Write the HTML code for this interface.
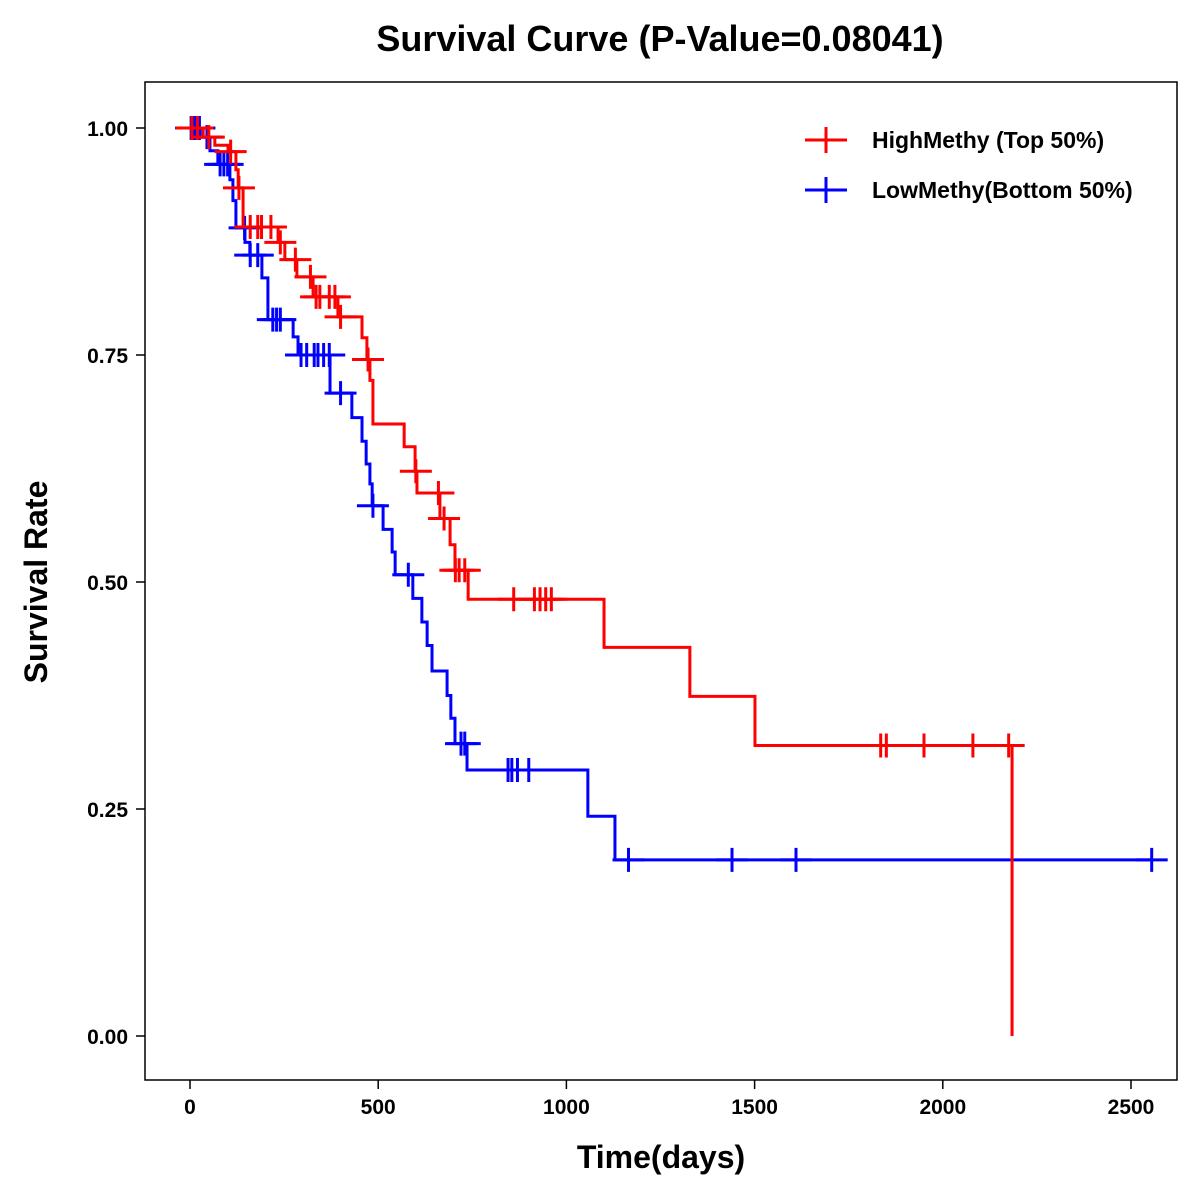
<!DOCTYPE html>
<html><head><meta charset="utf-8"><style>
body{margin:0;background:#fff}
svg{display:block;font-family:"Liberation Sans",Arial,sans-serif}
</style></head><body>
<svg id="chart" width="1200" height="1200" viewBox="0 0 1200 1200">
<rect width="1200" height="1200" fill="#fff"/>
<text x="660" y="51" text-anchor="middle" font-size="36" font-weight="bold">Survival Curve (P-Value=0.08041)</text>
<rect x="145" y="82" width="1032" height="998" fill="none" stroke="#000" stroke-width="1.5"/>
<g id="axes"></g>
<g id="series"></g>
<text x="661" y="1168" text-anchor="middle" font-size="32" font-weight="bold">Time(days)</text>
<text transform="translate(47,582) rotate(-90)" text-anchor="middle" font-size="32" font-weight="bold">Survival Rate</text>
<g>
<g>
<line x1="805" y1="140" x2="847" y2="140" stroke="#f00" stroke-width="3"/>
<line x1="826" y1="127" x2="826" y2="153" stroke="#f00" stroke-width="3"/>
<text x="872" y="148" font-size="23" font-weight="bold">HighMethy (Top 50%)</text>
</g>
<g>
<line x1="805" y1="190" x2="847" y2="190" stroke="#00f" stroke-width="3"/>
<line x1="826" y1="177" x2="826" y2="203" stroke="#00f" stroke-width="3"/>
<text x="872" y="198" font-size="23" font-weight="bold">LowMethy(Bottom 50%)</text>
</g>
</g>
</svg>
<script>
const xTicks=[0,500,1000,1500,2000,2500];
const yTicks=[0,0.25,0.5,0.75,1.0];
const yTickLabels=["0.00","0.25","0.50","0.75","1.00"];
const highTimes=[35,66,101,122,128,141,234,252,284,327,393,457,470,478,486,569,598,603,664,691,704,739,1100,1328,1501,2184];
const highSurv=[.99,.981,.974,.954,.934,.891,.874,.855,.836,.814,.792,.769,.745,.722,.674,.649,.622,.598,.570,.541,.513,.481,.428,.374,.32,0];
const highCensor=[5,20,50,108,130,160,180,190,215,240,280,320,335,345,370,385,400,473,600,660,675,705,715,730,860,915,930,945,960,1835,1850,1950,2080,2175];
const lowTimes=[27,53,74,106,114,122,146,159,191,207,274,287,372,430,457,468,478,484,513,537,545,592,616,630,643,683,693,704,736,1057,1129];
const lowSurv=[.99,.975,.96,.943,.92,.89,.874,.86,.835,.789,.77,.75,.708,.681,.655,.63,.608,.584,.558,.533,.508,.482,.456,.43,.402,.375,.35,.322,.293,.242,.194];
const lowCensor=[3,8,12,15,25,45,80,90,100,145,160,180,220,230,240,295,310,330,340,355,370,400,486,580,720,730,845,855,870,900,1165,1440,1610,2555];

const NS='http://www.w3.org/2000/svg';
const xS=t=>190+t*(941/2500);
const yS=s=>1036-s*908;
function mk(tag,attrs,parent){const e=document.createElementNS(NS,tag);for(const k in attrs)e.setAttribute(k,attrs[k]);parent.appendChild(e);return e;}
const axes=document.getElementById('axes');
xTicks.forEach(t=>{
  const l=mk('line',{x1:xS(t),x2:xS(t),y1:1080,y2:1089,stroke:'#000','stroke-width':1.5},axes);
  
  
  const tx=mk('text',{x:xS(t),y:1114,'text-anchor':'middle','font-size':21,'font-weight':'bold'},axes);
  tx.textContent=t;
  
  
});
yTicks.forEach((v,i)=>{
  const l=mk('line',{x1:136,x2:145,y1:yS(v),y2:yS(v),stroke:'#000','stroke-width':1.5},axes);
  
  
  const tx=mk('text',{x:128,y:yS(v)+8,'text-anchor':'end','font-size':21,'font-weight':'bold'},axes);
  tx.textContent=yTickLabels[i];
  
  
});
function survAt(times,surv,t){let s=1;for(let i=0;i<times.length;i++){if(times[i]<=t)s=surv[i];}return s;}
const series=document.getElementById('series');
function draw(times,surv,cens,color,name){
  const g=mk('g',{},series);
  
  
  const maxT=Math.max(times[times.length-1],cens[cens.length-1]);
  let d='M'+xS(0)+','+yS(1);let s=1;
  for(let i=0;i<times.length;i++){d+=' H'+xS(times[i])+' V'+yS(surv[i]);s=surv[i];}
  if(s>0)d+=' H'+xS(maxT);
  const p=mk('path',{d:d,fill:'none',stroke:color,'stroke-width':3},g);
  
  
  cens.forEach(t=>{
    const y=yS(survAt(times,surv,t)),x=xS(t);
    const c=mk('path',{d:`M${x-16},${y} H${x+16} M${x},${y-12} V${y+12}`,stroke:color,'stroke-width':3,fill:'none'},g);
    
    
  });
}
draw(lowTimes,lowSurv,lowCensor,'#00f','low-methy');
draw(highTimes,highSurv,highCensor,'#f00','high-methy');
</script>
</body></html>
